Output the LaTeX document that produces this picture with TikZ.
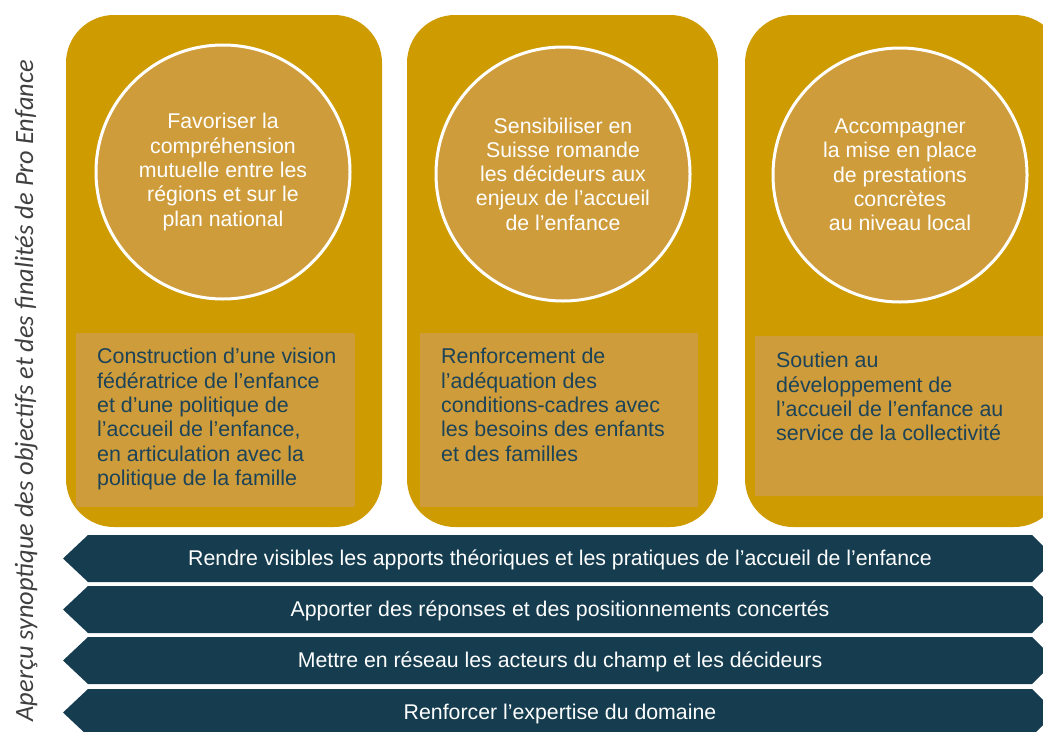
\documentclass[tikz,border=0pt]{standalone}
\usepackage{fontspec}
\setmainfont{Liberation Sans}
\newfontfamily\calfont{Carlito}
\definecolor{gold}{HTML}{CE9C00}
\definecolor{innerc}{HTML}{CE9C3A}
\definecolor{bandc}{HTML}{153D4F}
\definecolor{boxtxt}{HTML}{1C4358}
\definecolor{sidetxt}{HTML}{404040}
\tikzset{
  panel/.style={fill=gold, rounded corners=48pt},
  disc/.style={circle, fill=innerc, draw=white, line width=3pt, minimum size=254pt, inner sep=0pt,
    text=white, align=center, font=\fontsize{21.3}{24.3}\selectfont},
  inbox/.style={fill=innerc, inner sep=0pt, anchor=north west},
  boxtext/.style={inner sep=0pt, anchor=north west, align=left, text=boxtxt,
    font=\fontsize{21.4}{24.4}\selectfont},
  bandtext/.style={text=white, inner sep=0pt, font=\fontsize{21.3}{24}\selectfont},
}
\begin{document}
\begin{tikzpicture}[x=1pt,y=-1pt]
\useasboundingbox (0,0) rectangle (1043,731);
\clip (0,0) rectangle (1043,731);
% panels
\fill[panel] (66,15) rectangle (382,527);
\fill[panel] (407,15) rectangle (718,527);
\fill[panel] (745,15) rectangle (1062,527);
% circles
\node[disc] (c1) at (223,172) {Favoriser la\\compréhension\\mutuelle entre les\\régions et sur le\\plan national};
\node[disc] (c2) at (563,174) {Sensibiliser en\\Suisse romande\\les décideurs aux\\enjeux de l’accueil\\de l’enfance};
\node[disc] (c3) at (900,175) {Accompagner\\la mise en place\\de prestations\\concrètes\\au niveau local};
% inner boxes
\node[inbox, minimum width=279pt, minimum height=174pt] (r1) at (76,333) {};
\node[inbox, minimum width=278pt, minimum height=174pt] (r2) at (420,333) {};
\node[inbox, minimum width=300pt, minimum height=160pt] (r3) at (755,336) {};
\node[boxtext] (t1) at ([xshift=21pt,yshift=-15pt]r1.north west) {Construction d’une vision\\fédératrice de l’enfance\\et d’une politique de\\l’accueil de l’enfance,\\en articulation avec la\\politique de la famille};
\node[boxtext] (t2) at ([xshift=21pt,yshift=-15pt]r2.north west) {Renforcement de\\l’adéquation des\\conditions-cadres avec\\les besoins des enfants\\et des familles};
\node[boxtext] (t3) at ([xshift=21pt,yshift=-16pt]r3.north west) {Soutien au\\développement de\\l’accueil de l’enfance au\\service de la collectivité};
% bands
\foreach \m in {558.5,609.5,660.5,712.5}{
  \fill[bandc] (63,\m) -- (88,\m-23.5) -- (1032,\m-23.5) -- (1056,\m) -- (1032,\m+23.5) -- (88,\m+23.5) -- cycle;
}
\node[bandtext] (b1) at (560,559.5) {Rendre visibles les apports théoriques et les pratiques de l’accueil de l’enfance};
\node[bandtext] (b2) at (560,610.5) {Apporter des réponses et des positionnements concertés};
\node[bandtext] (b3) at (560,661.5) {Mettre en réseau les acteurs du champ et les décideurs};
\node[bandtext] (b4) at (560,713.5) {Renforcer l’expertise du domaine};
% side title
\node[rotate=90, anchor=base east, inner sep=0pt, text=sidetxt, font=\calfont\itshape\fontsize{26.4}{30}\selectfont] (side) at (33,60) {Aperçu synoptique des objectifs et des finalités de Pro Enfance};
\end{tikzpicture}
\end{document}
